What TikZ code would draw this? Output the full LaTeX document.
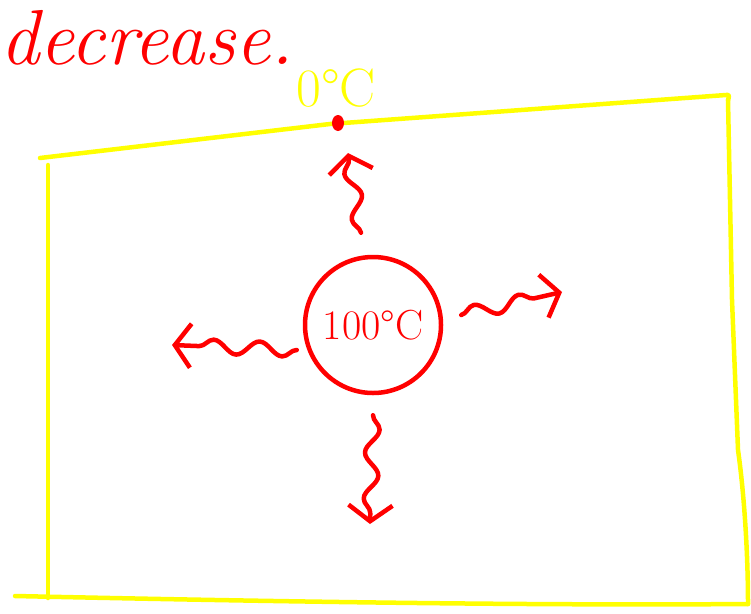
\documentclass[tikz,border=0pt]{standalone}
\usetikzlibrary{decorations.pathmorphing,arrows.meta,calc}
\definecolor{ink}{RGB}{255,0,0}
\definecolor{hilite}{RGB}{255,255,0}
\begin{document}
\begin{tikzpicture}[x=1pt,y=-1pt,
  redpen/.style={draw=ink,line width=4.5pt,line cap=round,line join=round},
  yelpen/.style={draw=hilite,line width=4.5pt,line cap=round,line join=round},
  wavy/.style={redpen,decorate,decoration={snake,amplitude=7pt,segment length=46pt,pre length=0pt,post length=6pt},
    -{Straight Barb[length=16pt,width=44pt,line width=4.5pt]}},
  hotbody/.style={circle,redpen,minimum size=136pt,inner sep=0pt,font=\fontsize{42}{42}\selectfont,text=ink}]
\useasboundingbox (0,0) rectangle (751,613);
% title
\node[anchor=base west,inner sep=0pt,text=ink,font=\fontsize{78}{78}\selectfont\itshape] (title) at (0,64) {decrease.};
% outer box (yellow)
\coordinate (tl) at (40,158);
\coordinate (tr) at (726,95);
\coordinate (br) at (748,604);
\coordinate (bl) at (15,596);
\draw[yelpen] (tl) -- (330,124) -- (tr) .. controls (730,94) and (729,97) .. (728,100);
\draw[yelpen] (728,100) -- (732,300) -- (738,450) .. controls (745,500) and (748,560) .. (br);
\draw[yelpen] (bl) .. controls (200,600) and (500,606) .. (br);
\draw[yelpen] (48,165) -- (48,598);
% freezing point label and mark
\node[text=hilite,font=\fontsize{54}{54}\selectfont,inner sep=0pt] (zero) at (336,88) {0\textdegree C};
\fill[ink] (338,123) circle[x radius=6pt,y radius=8pt];
% hot body
\node[hotbody] (hot) at (373,325) {100\textdegree C};
% heat radiating away
\coordinate (upend) at (348,153);
\coordinate (rightend) at (562,292);
\coordinate (leftend) at (172,345);
\coordinate (downend) at (370,524);
\draw[wavy] ($(hot.north)+(-12,-22)$) -- (upend);
\draw[wavy] ($(hot.east)+(18,-10)$) -- (rightend);
\draw[wavy] ($(hot.west)+(-6,25)$) -- (leftend);
\draw[wavy] ($(hot.south)+(0,20)$) -- (downend);
\end{tikzpicture}
\end{document}
